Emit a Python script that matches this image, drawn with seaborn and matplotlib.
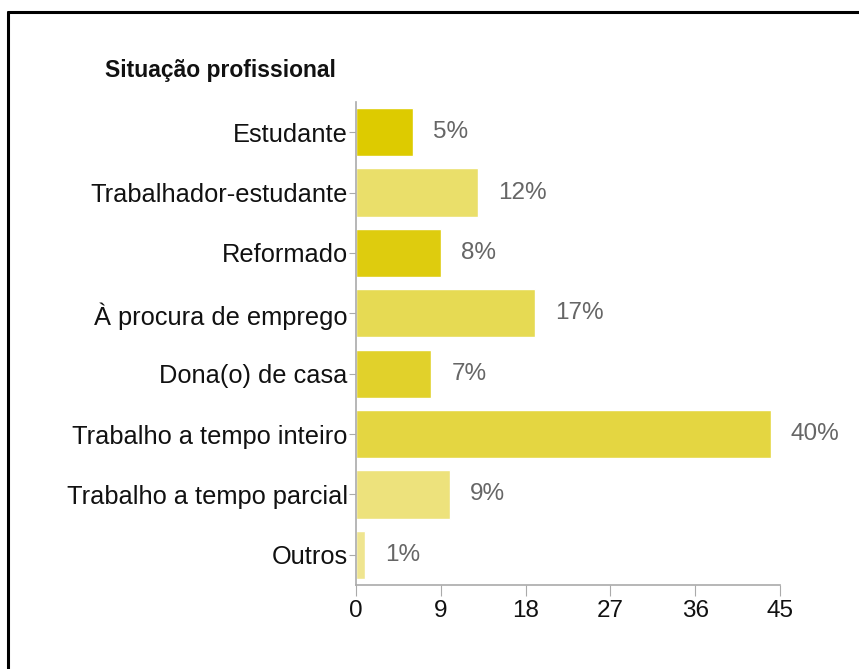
import matplotlib
matplotlib.use('Agg')
import matplotlib.pyplot as plt
import seaborn as sns
import pandas as pd
from matplotlib.lines import Line2D

# data
categories = ['Estudante', 'Trabalhador-estudante', 'Reformado', 'À procura de emprego',
              'Dona(o) de casa', 'Trabalho a tempo inteiro', 'Trabalho a tempo parcial', 'Outros']
counts = [6, 13, 9, 19, 8, 44, 10, 1]
percent_labels = ['5%', '12%', '8%', '17%', '7%', '40%', '9%', '1%']
bar_colors = ['#DDCB00', '#EADF6A', '#DECC0E', '#E6DA53', '#E1D12B', '#E4D641', '#EDE27C', '#EFE590']
x_ticks = [0, 9, 18, 27, 36, 45]

sns.set_style('white')
plt.rcParams['font.family'] = ['Liberation Sans', 'DejaVu Sans']

df = pd.DataFrame({'Situacao': categories, 'Contagem': counts})

fig = plt.figure(figsize=(8.59, 6.69), dpi=100)
ax = fig.add_axes([0.4144, 0.1256, 0.4936, 0.7219])

sns.barplot(data=df, x='Contagem', y='Situacao', hue='Situacao', palette=bar_colors,
            legend=False, orient='h', width=0.8, saturation=1, ax=ax)

ax.set_xlim(0, 45)
ax.set_ylim(7.5, -0.5)
ax.set_xticks(x_ticks)
ax.set_xlabel('')
ax.set_ylabel('')

for sp in ['top', 'right']:
    ax.spines[sp].set_visible(False)
for sp in ['left', 'bottom']:
    ax.spines[sp].set_color('#AAAAAA')
    ax.spines[sp].set_linewidth(1.2)

ax.tick_params(axis='y', length=5, color='#AAAAAA', labelsize=18.3, labelcolor='#111111', pad=1)
ax.tick_params(axis='x', length=8, color='#AAAAAA', labelsize=17.5, labelcolor='#111111', pad=3,
               direction='out', bottom=True)
ax.tick_params(axis='y', left=True, direction='out')

for i, (v, lab) in enumerate(zip(counts, percent_labels)):
    ax.annotate(lab, (v, i), xytext=(14.5, 0), textcoords='offset points',
                ha='left', va='center', fontsize=17.5, color='#666666')

fig.text(105 / 859, 1 - 70 / 669, 'Situação profissional', fontsize=16.5, fontweight='bold',
         color='#111111', ha='left', va='center')

# outer frame (top and left edges visible)
fig.add_artist(Line2D([8 / 859, 1], [1 - 12 / 669, 1 - 12 / 669], color='black', lw=2.2,
                      transform=fig.transFigure))
fig.add_artist(Line2D([8 / 859, 8 / 859], [0, 1 - 12 / 669], color='black', lw=2.2,
                      transform=fig.transFigure))

fig.savefig('out.png', dpi=100)
